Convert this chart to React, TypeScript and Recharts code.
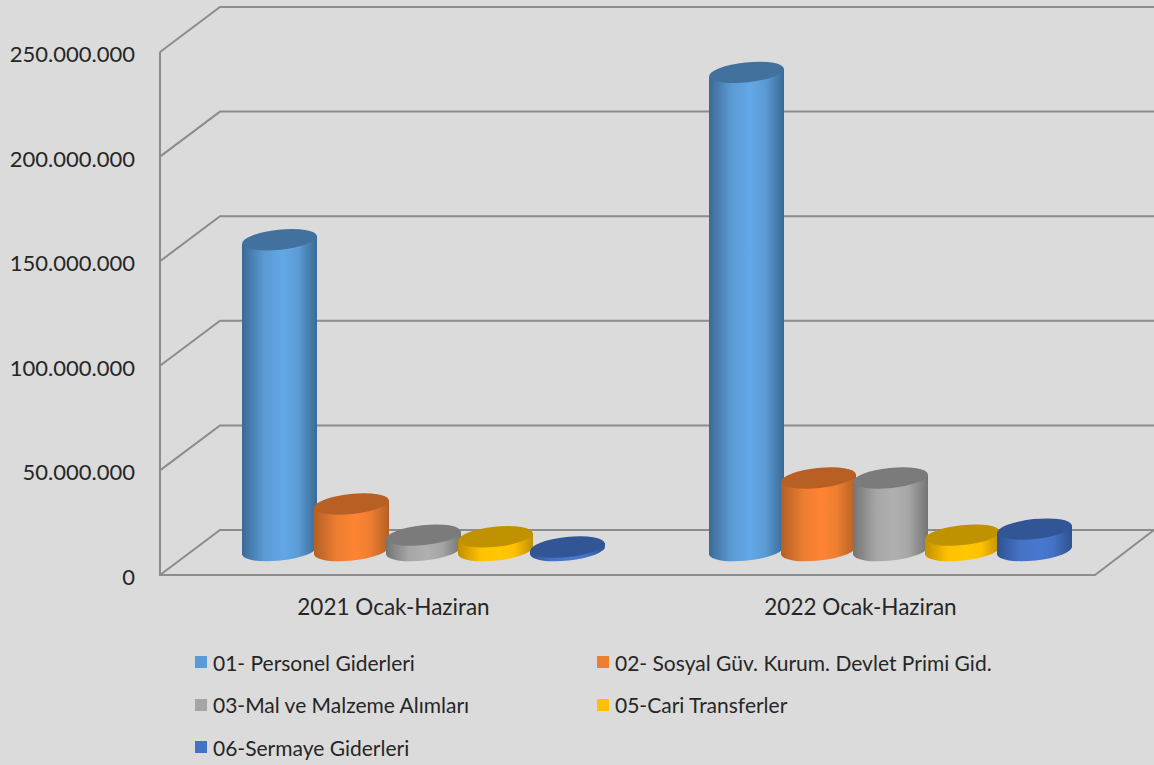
import React from "react";
import { BarChart, Bar, XAxis, YAxis, CartesianGrid, Legend } from "recharts";

const categories = ["2021 Ocak-Haziran", "2022 Ocak-Haziran"];
const personel = [149500000, 229500000];
const sosyal = [23200000, 35600000];
const malzeme = [8300000, 35600000];
const cari = [7500000, 8300000];
const sermaye = [2600000, 11200000];
const yTicks = [0, 50000000, 100000000, 150000000, 200000000, 250000000];

const chartData = categories.map((name, i) => ({
  name,
  personel: personel[i],
  sosyal: sosyal[i],
  malzeme: malzeme[i],
  cari: cari[i],
  sermaye: sermaye[i],
}));

const seriesList = [
  { key: "personel", label: "01- Personel Giderleri", color: "#5B9BD5", shine: "#62A7E6", edge: "#3A6A96", top: "#41719C" },
  { key: "sosyal", label: "02- Sosyal Güv. Kurum. Devlet Primi Gid.", color: "#ED7D31", shine: "#FF8533", edge: "#B45F25", top: "#B85F24" },
  { key: "malzeme", label: "03-Mal ve Malzeme Alımları", color: "#A5A5A5", shine: "#B0B0B0", edge: "#747474", top: "#7B7B7B" },
  { key: "cari", label: "05-Cari Transferler", color: "#FFC000", shine: "#FFC800", edge: "#BF9000", top: "#C09200" },
  { key: "sermaye", label: "06-Sermaye Giderleri", color: "#4472C4", shine: "#4878D2", edge: "#2F528F", top: "#325596" },
];

// the fake 3D: front wall sits down-left of the plot, back wall up-right
const DX = 30;
const DY = 22.5;
const LINE = "#8C8C8C";
const FONT = "Lato, sans-serif";
const TEXT = "#262626";

const fmt = (v: number) => String(v).replace(/\B(?=(\d{3})+$)/g, ".");

const Cylinder = (props: any) => {
  const { x: rawX, y, width, height, top, id } = props;
  const x = rawX - 2;
  const w = width + 3;
  const rx = w / 2;
  const ry = 10;
  const tilt = 4;
  const base = y + height - 2;
  const body = `M${x},${y + tilt} L${x},${base + tilt} A${rx},${ry} -6 0 0 ${x + w},${base - tilt} L${x + w},${y - tilt} Z`;
  return (
    <g>
      <path d={body} fill={`url(#${id})`} />
      <ellipse cx={x + rx} cy={y} rx={rx} ry={ry} fill={top} transform={`rotate(-6 ${x + rx} ${y})`} />
    </g>
  );
};

const GridLine = (props: any) => {
  const { y1, y, height, index } = props;
  const bottom = y + height;
  const isFloor = Math.abs(y1 - bottom) < 1;
  return (
    <g key={`grid-${index}`} fill="none" stroke={LINE} strokeWidth={2}>
      <path d={`M160,${y1 + DY} L220,${y1 - DY} L1154,${y1 - DY}`} />
      {isFloor && <path d={`M160,${y + DY} L160,${bottom + DY} L1095,${bottom + DY} L1154,${bottom - DY}`} />}
    </g>
  );
};

const YTick = ({ y, payload }: any) => (
  <text x={135} y={y + DY + 10} textAnchor="end" fontFamily={FONT} fontSize={22} fill={TEXT}>
    {fmt(payload.value)}
  </text>
);

const XTick = ({ x, payload }: any) => (
  <text x={x - DX} y={615} textAnchor="middle" fontFamily={FONT} fontSize={22.5} fill={TEXT}>
    {payload.value}
  </text>
);

const LegendBox = () => (
  <div
    style={{
      display: "grid",
      gridTemplateColumns: "402px 402px",
      gridAutoRows: "42.5px",
      paddingTop: 6,
      fontFamily: FONT,
      fontSize: 21,
      color: TEXT,
    }}
  >
    {seriesList.map((s) => (
      <div key={s.key} style={{ display: "flex", alignItems: "center" }}>
        <span style={{ width: 12, height: 12, background: s.color, marginRight: 6 }} />
        {s.label}
      </div>
    ))}
  </div>
);

export default function App() {
  return (
    <div style={{ position: "absolute", left: 0, top: 0, width: 1154, height: 765, background: "#DBDBDB" }}>
      <BarChart
        width={1154}
        height={765}
        data={chartData}
        margin={{ top: 29.5, right: 30, bottom: 0, left: 0 }}
        barSize={72}
        barGap={0}
        barCategoryGap="11.5%"
      >
        <defs>
          {seriesList.map((s) => (
            <linearGradient key={s.key} id={`grad-${s.key}`} x1="0" y1="0" x2="1" y2="0">
              <stop offset="0%" stopColor={s.edge} />
              <stop offset="30%" stopColor={s.color} />
              <stop offset="55%" stopColor={s.shine} />
              <stop offset="75%" stopColor={s.color} />
              <stop offset="100%" stopColor={s.edge} />
            </linearGradient>
          ))}
        </defs>
        <CartesianGrid vertical={false} horizontal={GridLine} />
        <XAxis dataKey="name" height={82.5} axisLine={false} tickLine={false} tick={XTick} interval={0} />
        <YAxis width={190} domain={[0, 250000000]} ticks={yTicks} axisLine={false} tickLine={false} tick={YTick} interval={0} />
        <Legend
          content={LegendBox}
          wrapperStyle={{ left: 195, width: 810, height: 130 }}
        />
        {seriesList.map((s) => (
          <Bar
            key={s.key}
            dataKey={s.key}
            name={s.label}
            fill={s.color}
            isAnimationActive={false}
            shape={(p: any) => <Cylinder {...p} top={s.top} id={`grad-${s.key}`} />}
          />
        ))}
      </BarChart>
    </div>
  );
}
